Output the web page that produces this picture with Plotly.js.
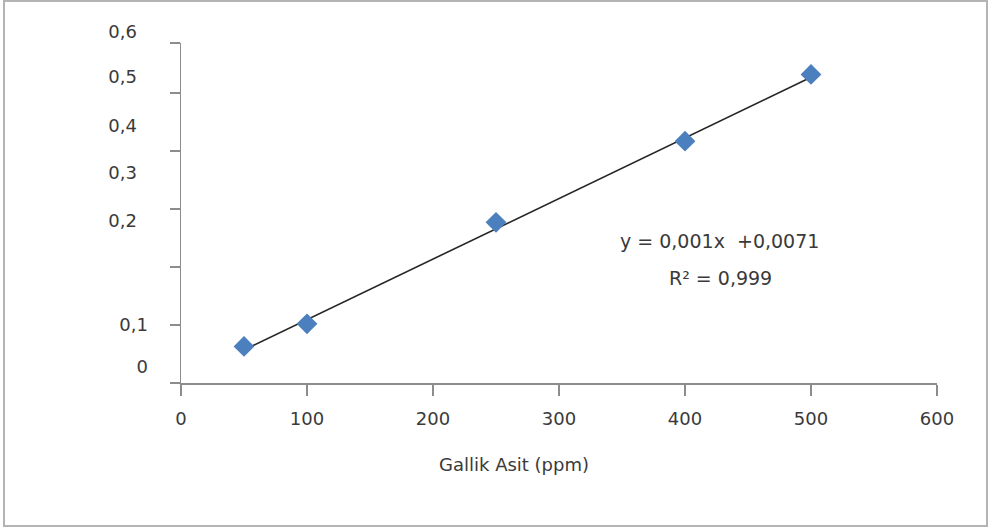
<!DOCTYPE html>
<html>
<head>
<meta charset="utf-8">
<script src="https://cdn.plot.ly/plotly-3.0.1.min.js"></script>
<style>
  html, body { margin: 0; padding: 0; background: #ffffff; }
  #wrap { position: relative; width: 990px; height: 528px; }
  #chart { width: 990px; height: 528px; }
  #frame { position: absolute; left: 3px; top: 0px; width: 985px; height: 527px;
           border: 2px solid #b4b4b4; box-sizing: border-box; pointer-events: none; }
</style>
</head>
<body>
<div id="wrap">
  <div id="chart"></div>
  <div id="frame"></div>
</div>
<script>
// Data
const concentration = [50, 100, 250, 400, 500];           // Gallik Asit (ppm)
const absorbance    = [0.063, 0.102, 0.277, 0.417, 0.532];
// Trendline ends as drawn
const trendX = [50, 500];
const trendY = [0.057, 0.527];

// Axis ticks
const xTickVals = [0, 100, 200, 300, 400, 500, 600];
const xTickText = ['0', '100', '200', '300', '400', '500', '600'];
const yMax = 0.586;
const yTickMarks = [0, 0.1, 0.2, 0.3, 0.4, 0.5, yMax];
// Y tick labels as placed in the reference (upper group and lower group)
const yLabelUpperVals = [0.606, 0.528, 0.444, 0.363, 0.279];
const yLabelUpperText = ['0,6', '0,5', '0,4', '0,3', '0,2'];
const yLabelLowerVals = [0.1005, 0.028];
const yLabelLowerText = ['0,1', '0'];

const equationText = 'y = 0,001x \u00a0+0,0071';
const r2Text = 'R\u00b2 = 0,999';
const xTitle = 'Gallik Asit (ppm)';

const fontFam = "'DejaVu Sans', sans-serif";
const txtCol = '#3a3a3a';
const axCol = '#8c8c8c';

const plotTop = 20, plotBottom = 145;
const plotH = 528 - plotTop - plotBottom;
const pxPerUnit = 580;
const mainDomTop = (yMax * pxPerUnit) / plotH;
const labelRangeTop = plotH / pxPerUnit;

const traces = [
  {
    x: trendX, y: trendY, type: 'scatter', mode: 'lines',
    line: { color: '#262626', width: 1.6 }, hoverinfo: 'skip', showlegend: false
  },
  {
    x: concentration, y: absorbance, type: 'scatter', mode: 'markers',
    marker: { symbol: 'diamond', size: 16, color: '#4c7fbd', line: { width: 0 } },
    showlegend: false
  },
  { x: [], y: [], yaxis: 'y2', type: 'scatter', showlegend: false, hoverinfo: 'skip' },
  { x: [], y: [], yaxis: 'y3', type: 'scatter', showlegend: false, hoverinfo: 'skip' }
];

const layout = {
  width: 990, height: 528,
  margin: { l: 181, r: 53, t: plotTop, b: plotBottom },
  paper_bgcolor: '#ffffff', plot_bgcolor: 'rgba(0,0,0,0)',
  showlegend: false,
  font: { family: fontFam, size: 18, color: txtCol },
  xaxis: {
    range: [0, 600], tickvals: xTickVals, ticktext: xTickText,
    showgrid: false, zeroline: false, showline: true, linecolor: axCol, linewidth: 1.5,
    ticks: 'outside', ticklen: 11, tickcolor: axCol, tickwidth: 1.5,
    tickfont: { family: fontFam, size: 18, color: txtCol },
    ticklabelstandoff: 8,
    fixedrange: true
  },
  yaxis: {
    domain: [0, mainDomTop], range: [0, yMax], tickvals: yTickMarks,
    showticklabels: false,
    showgrid: false, zeroline: false, showline: true, linecolor: axCol, linewidth: 1.5,
    ticks: 'outside', ticklen: 10, tickcolor: axCol, tickwidth: 1.5,
    fixedrange: true
  },
  yaxis2: {
    domain: [0, 1], range: [0, labelRangeTop], anchor: 'x',
    tickvals: yLabelUpperVals, ticktext: yLabelUpperText,
    showgrid: false, zeroline: false, showline: false, ticks: '',
    tickfont: { family: fontFam, size: 18, color: txtCol },
    ticklabelstandoff: 43,
    fixedrange: true
  },
  yaxis3: {
    overlaying: 'y2', range: [0, labelRangeTop], anchor: 'x',
    tickvals: yLabelLowerVals, ticktext: yLabelLowerText,
    showgrid: false, zeroline: false, showline: false, ticks: '',
    tickfont: { family: fontFam, size: 18, color: txtCol },
    ticklabelstandoff: 32,
    fixedrange: true
  },
  annotations: [
    { text: equationText, xref: 'x', yref: 'y', x: 427, y: 0.2449,
      showarrow: false, xanchor: 'center', yanchor: 'middle',
      font: { family: fontFam, size: 19, color: txtCol } },
    { text: r2Text, xref: 'x', yref: 'y', x: 428, y: 0.1817,
      showarrow: false, xanchor: 'center', yanchor: 'middle',
      font: { family: fontFam, size: 19, color: txtCol } },
    { text: xTitle, xref: 'paper', yref: 'paper', x: 0.441, y: -0.225,
      showarrow: false, xanchor: 'center', yanchor: 'middle',
      font: { family: fontFam, size: 18, color: txtCol } }
  ]
};

Plotly.newPlot('chart', traces, layout, { displayModeBar: false, staticPlot: true });
</script>
</body>
</html>
